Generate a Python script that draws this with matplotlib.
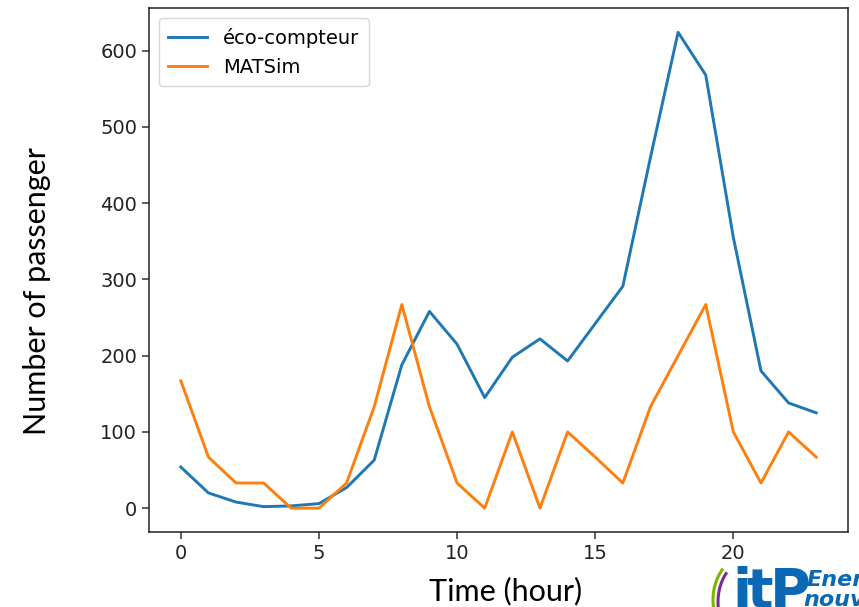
import numpy as np
import matplotlib
matplotlib.use("Agg")
import matplotlib.pyplot as plt
from matplotlib.patches import Arc

## données
hours = list(range(24))
eco_compteur = [54, 20, 8, 2, 3, 6, 27, 63, 188, 258, 215, 145,
                198, 222, 193, 242, 291, 460, 624, 568, 355, 180, 138, 125]
matsim = [167, 67, 33, 33, 0, 0, 33, 133, 267, 133, 33, 0,
          100, 0, 100, 67, 33, 133, 200, 267, 100, 33, 100, 67]

W, H = 859, 607
fig = plt.figure(figsize=(W / 100, H / 100), dpi=100)
ax = fig.add_axes([0.1735, 0.1236, 0.8137, 0.8624])

ax.plot(hours, eco_compteur, color="#1f77b4", lw=2.1, label="éco-compteur")
ax.plot(hours, matsim, color="#ff7f0e", lw=2.1, label="MATSim")

ax.set_xticks([0, 5, 10, 15, 20])
ax.set_yticks([0, 100, 200, 300, 400, 500, 600])
ax.tick_params(labelsize=14, length=5, width=1.1, colors="#333333",
               labelcolor="#222222")
for sp in ax.spines.values():
    sp.set_linewidth(1.1)
    sp.set_color("#222222")

leg = ax.legend(loc="upper left", fontsize=14, handlelength=2.0,
                borderpad=0.5, labelspacing=0.5)
leg.get_frame().set_linewidth(1.0)

# titres des axes (placés comme sur la diapo)
fig.text(37 / W, 1 - 291 / H, "Number of passenger", fontsize=22,
         family="Lato", rotation=90, ha="center", va="center")
fig.text(506 / W, 1 - 591 / H, "Time (hour)", fontsize=22,
         family="Lato", ha="center", va="center")

# logo en bas à droite (coupé par le bord)
lx0, ly0 = 690, 545
lg = fig.add_axes([lx0 / W, 0, (W - lx0) / W, (H - ly0) / H])
lg.set_xlim(lx0, W)
lg.set_ylim(H, ly0)
lg.axis("off")
blue = "#0a68b4"
lg.add_patch(Arc((745, 600), 64, 86, theta1=165, theta2=235,
                 color="#7ab800", lw=2.2))
lg.add_patch(Arc((750, 602), 64, 86, theta1=165, theta2=232,
                 color="#7b2d8e", lw=2.2))
for ch, x in [("i", 732), ("t", 746), ("P", 770)]:
    lg.text(x, 608, ch, fontsize=40, fontweight="heavy", color=blue,
            family="DejaVu Sans", va="baseline", ha="left", clip_on=True)
lg.text(807, 586, "Ener", fontsize=16, style="italic", fontweight="bold",
        color=blue, va="baseline", ha="left", clip_on=True)
lg.text(803, 606, "nouv", fontsize=16, style="italic", fontweight="bold",
        color=blue, va="baseline", ha="left", clip_on=True)

fig.savefig("out.png", dpi=100)
